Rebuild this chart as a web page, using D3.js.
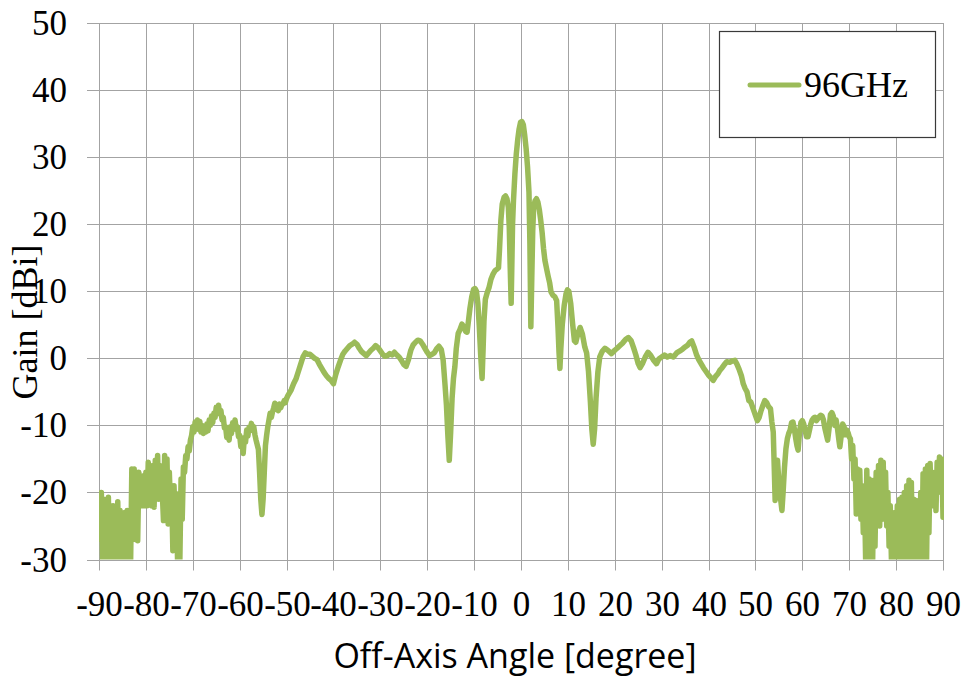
<!DOCTYPE html>
<html>
<head>
<meta charset="utf-8">
<script src="https://cdn.jsdelivr.net/npm/d3@7/dist/d3.min.js"></script>
<style>
  html, body { margin: 0; padding: 0; background: #ffffff; }
  svg { display: block; }
</style>
</head>
<body>
<svg id="chart" width="966" height="679"></svg>
<script>
// ---- data -------------------------------------------------------------
const seriesName = "96GHz";
const xTickValues = [-90, -80, -70, -60, -50, -40, -30, -20, -10, 0, 10, 20, 30, 40, 50, 60, 70, 80, 90];
const yTickValues = [-30, -20, -10, 0, 10, 20, 30, 40, 50];
const xTitle = "Off-Axis Angle [degree]";
const yTitle = "Gain [dBi]";

// measured radiation pattern: off-axis angle (deg)
const angleDeg = [
  // far left, dense ripple
  -90, -89.75, -89.5, -89.25, -89, -88.75, -88.5, -88.25,
  -88, -87.75, -87.5, -87.25, -87, -86.75, -86.5, -86.25,
  -86, -85.75, -85.5, -85.25, -85, -84.75, -84.5, -84.25,
  -84, -83.75, -83.5, -83.25, -83, -82.75, -82.5, -82.25,
  -82, -81.75, -81.5, -81.25, -81, -80.75, -80.5, -80.25,
  -80, -79.75, -79.5, -79.25, -79, -78.75, -78.5, -78.25,
  -78, -77.75, -77.5, -77.25, -77, -76.75, -76.5, -76.25,
  -76, -75.75, -75.5, -75.25, -75, -74.75, -74.5, -74.25,
  -74, -73.75, -73.5, -73.25, -73, -72.75, -72.5, -72.25,
  // -72 .. -49.75
  -72, -71.75, -71.5, -71.25, -71, -70.75, -70.5, -70.25,
  -70, -69.75, -69.5, -69.25, -69, -68.75, -68.5, -68.25,
  -68, -67.75, -67.5, -67.25, -67, -66.75, -66.5, -66.25,
  -66, -65.75, -65.5, -65.25, -65, -64.75, -64.5, -64.25,
  -64, -63.75, -63.5, -63.25, -63, -62.75, -62.5, -62.25,
  -62, -61.75, -61.5, -61.25, -61, -60.75, -60.5, -60.25,
  -60, -59.75, -59.5, -59.25, -59, -58.75, -58.5, -58.25,
  -58, -57.75, -57.5, -57.25, -57, -56.75, -56.5, -56.25,
  -56, -55.75, -55.5, -55.25, -55, -54.75, -54.5, -54.25,
  -54, -53.75, -53.5, -53.25, -53, -52.75, -52.5, -52.25,
  -52, -51.75, -51.5, -51.25, -51, -50.75, -50.5, -50.25,
  -50, -49.75,
  // -49.5 .. -17
  -49.5, -49, -48.5, -48, -47.5, -47, -46.5, -46,
  -45.5, -45, -44.5, -44, -43.5, -43, -42.5, -42,
  -41.5, -41, -40.5, -40, -39.5, -39, -38.5, -38,
  -37.5, -37, -36.5, -36, -35.5, -35, -34.5, -34,
  -33.5, -33, -32.5, -32, -31.5, -31, -30.5, -30,
  -29.5, -29, -28.5, -28, -27.5, -27, -26.5, -26,
  -25.5, -25, -24.5, -24, -23.5, -23, -22.5, -22,
  -21.5, -21, -20.5, -20, -19.5, -19, -18.5, -18,
  -17.5, -17,
  // main beam and near side lobes
  -16.6, -16.2, -15.9, -15.6, -15.3, -15.0, -14.7, -14.4,
  -14.1, -13.8, -13.4, -13.0, -12.6, -12.2, -11.8, -11.5,
  -11.2, -10.9, -10.5, -10.1, -9.8, -9.5, -9.2, -8.9,
  -8.6, -8.3, -8.1, -7.9, -7.6, -7.2, -6.8, -6.4,
  -6.0, -5.5, -5.1, -4.8, -4.6, -4.3, -4.0, -3.6,
  -3.3, -3.0, -2.7, -2.5, -2.3, -2.1, -1.95, -1.8,
  -1.6, -1.3, -1.0, -0.7, -0.4, -0.1, 0.2, 0.5,
  0.8, 1.1, 1.4, 1.7, 1.9, 2.1, 2.3, 2.5,
  2.7, 3.0, 3.3, 3.6, 3.9, 4.2, 4.5, 4.8,
  5.1, 5.5, 5.8, 6.1, 6.4, 6.8, 7.2, 7.6,
  7.9, 8.1, 8.3, 8.5, 8.8, 9.2, 9.6, 9.9,
  10.2, 10.6, 11.0, 11.4, 11.7, 12.1, 12.6, 13.1,
  13.6, 14.0, 14.4, 14.8, 15.1, 15.4, 15.7, 16.0,
  16.4, 16.8,
  // 17.3 .. 53.8
  17.3, 17.9, 18.5, 19.3, 20.0, 20.5, 21.1, 21.7,
  22.3, 22.9, 23.5, 24.0, 24.5, 25.0, 25.4, 25.9,
  26.5, 27.1, 27.6, 28.2, 28.9, 29.4, 30.0, 30.6,
  31.2, 31.8, 32.5, 33.2, 33.9, 34.5, 35.0, 35.6,
  36.0, 36.4, 36.9, 37.4, 37.9, 38.4, 38.9, 39.5,
  40.0, 40.5, 41.0, 41.5, 42.0, 42.4, 42.9, 43.4,
  43.9, 44.5, 45.0, 45.6, 46.0, 46.5, 47.0, 47.4,
  47.8, 48.2, 48.6, 49.0, 49.5, 50.0, 50.4, 50.8,
  51.2, 51.6, 52.0, 52.4, 52.8, 53.2, 53.5, 53.8,
  // 54 .. 70
  54.0, 54.2, 54.45, 54.7, 54.95, 55.2, 55.45, 55.65,
  55.9, 56.2, 56.5, 56.8, 57.1, 57.4, 57.7, 58.0,
  58.3, 58.6, 58.85, 59.1, 59.4, 59.7, 60.0, 60.3,
  60.6, 60.9, 61.2, 61.5, 61.8, 62.1, 62.4, 62.7,
  63.0, 63.3, 63.6, 63.9, 64.2, 64.5, 64.8, 65.1,
  65.4, 65.7, 66.0, 66.3, 66.6, 66.9, 67.2, 67.5,
  67.8, 68.0, 68.3, 68.6, 68.9, 69.2, 69.5, 69.8,
  70.0,
  // far right, dense ripple
  70.25, 70.5, 70.75, 71, 71.25, 71.5, 71.75, 72,
  72.25, 72.5, 72.75, 73, 73.25, 73.5, 73.75, 74,
  74.25, 74.5, 74.75, 75, 75.25, 75.5, 75.75, 76,
  76.25, 76.5, 76.75, 77, 77.25, 77.5, 77.75, 78,
  78.25, 78.5, 78.75, 79, 79.25, 79.5, 79.75, 80,
  80.25, 80.5, 80.75, 81, 81.25, 81.5, 81.75, 82,
  82.25, 82.5, 82.75, 83, 83.25, 83.5, 83.75, 84,
  84.25, 84.5, 84.75, 85, 85.25, 85.5, 85.75, 86,
  86.25, 86.5, 86.75, 87, 87.25, 87.5, 87.75, 88,
  88.25, 88.5, 88.75, 89, 89.25, 89.5, 89.75, 90
];

// measured gain (dBi) at each angle above, 96 GHz
const gainDbi = [
  // far left, dense ripple
  -20.2, -27, -20, -30, -21, -30, -21.5, -30,
  -20.7, -30, -22, -30, -22, -30, -23, -30,
  -21.4, -30, -22.7, -30, -24, -30, -23, -30,
  -22.7, -30, -24, -30, -16.5, -23, -16.5, -27,
  -17, -27.2, -17, -20, -18, -22, -17.5, -22,
  -17, -22, -15.5, -19, -18, -22, -16, -22.2,
  -15.2, -20, -14.5, -21, -16, -19, -20, -24.2,
  -14.5, -20, -15, -24.7, -17, -22, -20, -28.7,
  -19, -25, -22, -30, -20.2, -30, -18, -24,
  // -72 .. -49.75
  -16.2, -17, -14.5, -15, -13.2, -13.8, -12.2, -11.5,
  -10.2, -11, -9.5, -10.5, -9.2, -10.6, -9.4, -11,
  -10, -11.2, -10.2, -11, -9.8, -10.8, -9.2, -10,
  -8.6, -9.6, -8.2, -8.8, -7.3, -8.2, -7.0, -8.3,
  -7.8, -9.2, -8.8, -10.4, -10.2, -11.8, -11, -12.2,
  -10.2, -11.2, -9.6, -10.6, -9.2, -10.4, -10.2, -11.7,
  -11.5, -13.2, -12.5, -14.2, -11.8, -12.5, -10.7, -11.6,
  -10.3, -10.8, -9.7, -10.4, -10.2, -11.4, -12.2, -12.9,
  -13.6, -17, -21, -23.3, -21, -17, -13, -11.5,
  -10.2, -9.2, -8.2, -8.8, -8.0, -7.4, -6.7, -7.6,
  -7.2, -7.8, -6.8, -7.4, -6.9, -6.8, -6.3, -6.6,
  -6.0, -5.6,
  // -49.5 .. -17
  -5.3, -4.7, -3.8, -3.1, -2.0, -0.9, 0.2, 0.8,
  0.6, 0.6, 0.3, 0.0, -0.2, -0.9, -1.5, -2.1,
  -2.6, -3.0, -3.3, -3.8, -2.4, -1.3, -0.3, 0.6,
  1.1, 1.5, 1.9, 2.1, 2.4, 2.1, 1.5, 1.0,
  0.7, 0.4, 0.8, 1.2, 1.5, 1.9, 1.6, 1.1,
  0.6, 0.3, 0.4, 0.7, 0.5, 0.9, 0.5, 0.2,
  -0.3, -0.9, -1.2, -0.2, 1.2, 2.0, 2.4, 2.7,
  2.6, 2.1, 1.5, 0.9, 0.4, 0.6, 0.8, 1.4,
  1.8, 1.3,
  // main beam and near side lobes
  -0.3, -4, -7, -11.5, -15.2, -11, -6, -3,
  -1.2, 1.5, 3.7, 4.3, 5.1, 4.7, 4.0, 3.9,
  5.6, 7.4, 9.2, 10.3, 10.4, 10.0, 8.2, 4.8,
  0.5, -3.0, 1.0, 5.5, 8.8, 9.8, 10.6, 11.8,
  12.5, 13.1, 13.3, 13.5, 16.0, 20.5, 23.0, 24.0,
  24.2, 23.8, 22.5, 19.5, 13.5, 8.2, 14, 20,
  23.6, 27.5, 30.5, 32.6, 34.2, 35.2, 35.3, 34.8,
  33.2, 31.2, 28.5, 24.8, 17, 4.7, 12, 19,
  22.5, 23.5, 23.8, 23.3, 22.2, 20.6, 18.8, 16.4,
  14.6, 13.2, 12.2, 11.3, 9.9, 9.4, 9.2, 8.6,
  4.5, 1.0, -1.5, 1.5, 5.0, 7.8, 9.6, 10.2,
  10.0, 8.2, 5.2, 2.6, 2.4, 3.6, 4.6, 3.6,
  1.7, 0.8, -2.0, -6.5, -10.5, -12.8, -10.5, -6,
  -2, 0.2,
  // 17.3 .. 53.8
  1.0, 1.5, 1.2, 0.7, 1.2, 1.5, 1.9, 2.3,
  2.8, 3.1, 2.6, 1.6, 0.5, -0.8, -1.4, -0.8,
  0.2, 0.9, 0.5, -0.2, -0.8, -0.1, 0.2, 0.5,
  0.2, 0.4, 0.2, 0.8, 1.1, 1.4, 1.7, 2.0,
  2.4, 2.6, 1.7, 0.6, -0.2, -0.8, -1.4, -2.0,
  -2.5, -2.9, -3.3, -2.7, -2.3, -1.8, -1.4, -0.9,
  -0.5, -0.6, -0.4, -0.3, -0.8, -1.6, -2.6, -3.8,
  -4.5, -5.0, -6.3, -6.5, -7.5, -8.5, -9.3, -8.8,
  -7.8, -7.0, -6.3, -6.6, -7.2, -7.5, -9.5, -11,
  // 54 .. 70
  -16, -21.2, -17, -15.2, -18, -20, -21.5, -22.7,
  -20, -16.2, -13.5, -12, -11.2, -10.7, -9.6, -9.5,
  -10.5, -12, -13, -13.7, -11, -9.6, -9.3, -9.8,
  -10.8, -11.7, -11.7, -10.8, -9.8, -9.2, -8.9, -8.8,
  -9.3, -9.0, -8.7, -8.5, -8.6, -9.2, -10.4, -11.3,
  -12.2, -10.5, -8.4, -8.1, -8.6, -10.0, -9.2, -10.5,
  -12.2, -13.2, -11.5, -9.8, -10.2, -11.4, -10.7, -11.2,
  -11.7,
  // far right, dense ripple
  -12, -15, -13, -18, -15, -23.2, -16.5, -22,
  -16.7, -24, -19, -26, -20, -30, -16.7, -30,
  -18, -30, -19, -30, -18.2, -28, -17, -24.2,
  -16, -25, -15.2, -24, -15.5, -23.7, -17, -25,
  -20, -28, -22, -30, -23.2, -30, -23, -30,
  -22, -30, -21, -30, -20.7, -30, -20, -30,
  -19, -30, -18.2, -30, -18.5, -30, -21, -30,
  -21.2, -30, -22, -30, -20, -30, -17.2, -30,
  -16.5, -30, -16, -26, -15.7, -22, -17, -22,
  -18, -22.7, -15.5, -20, -14.7, -18, -15, -23.7
];

// ---- layout -----------------------------------------------------------
const plot = { left: 99, right: 943, top: 23, bottom: 559.5 };
const tickOut = 12;
const serif = '"Liberation Serif", "DejaVu Serif", serif';
const lineColor = "#9BBB59";
const gridColor = "#a3a3a3";
const tickLabel = d => String(d);   // plain hyphen-minus, as in the axis labels

const x = d3.scaleLinear().domain([-90, 90]).range([plot.left, plot.right]);
const y = d3.scaleLinear().domain([-30, 50]).range([plot.bottom, plot.top]);

const svg = d3.select("#chart");

// vertical grid + x tick labels
const xAxis = d3.axisBottom(x)
  .tickValues(xTickValues)
  .tickFormat(tickLabel)
  .tickSizeInner(plot.bottom - plot.top + 11)
  .tickSizeOuter(0);

const gx = svg.append("g")
  .attr("transform", `translate(0.5,${plot.top})`)
  .call(xAxis);
gx.select(".domain").remove();
gx.selectAll(".tick line").attr("stroke", gridColor).attr("stroke-width", 1);
gx.selectAll(".tick").attr("transform", d => `translate(${Math.round(x(d))},0)`);
gx.selectAll(".tick text")
  .attr("y", 616 - plot.top)
  .attr("dy", 0)
  .attr("fill", "#000")
  .style("font-family", serif)
  .style("font-size", "35px");

// horizontal grid + y tick labels
const yAxis = d3.axisLeft(y)
  .tickValues(yTickValues)
  .tickFormat(tickLabel)
  .tickSizeInner(plot.right - plot.left + tickOut)
  .tickSizeOuter(0)
  .tickPadding(20);

const gy = svg.append("g")
  .attr("transform", `translate(${plot.right},0.5)`)
  .call(yAxis);
gy.select(".domain").remove();
gy.selectAll(".tick").attr("transform", d => `translate(0,${Math.round(y(d))})`);
gy.selectAll(".tick line").attr("stroke", gridColor).attr("stroke-width", 1);
gy.selectAll(".tick text")
  .attr("dy", "0.34em")
  .attr("fill", "#000")
  .style("font-family", serif)
  .style("font-size", "35px");

// pattern curve
svg.append("defs").append("clipPath").attr("id", "plot-clip")
  .append("rect")
  .attr("x", plot.left).attr("y", plot.top)
  .attr("width", plot.right - plot.left + 1)
  .attr("height", plot.bottom - plot.top);

const points = angleDeg.map((a, i) => [a, gainDbi[i]]);
const line = d3.line()
  .x(d => x(d[0]))
  .y(d => y(d[1]));

svg.append("path")
  .datum(points)
  .attr("clip-path", "url(#plot-clip)")
  .attr("d", line)
  .attr("fill", "none")
  .attr("stroke", lineColor)
  .attr("stroke-width", 5.5)
  .attr("stroke-linejoin", "round")
  .attr("stroke-linecap", "round");

// legend
const legend = svg.append("g");
legend.append("rect")
  .attr("x", 719.5).attr("y", 31.5)
  .attr("width", 216).attr("height", 106)
  .attr("fill", "#fff")
  .attr("stroke", "#3a3a3a")
  .attr("stroke-width", 1.2);
legend.append("line")
  .attr("x1", 750).attr("x2", 799)
  .attr("y1", 85).attr("y2", 85)
  .attr("stroke", lineColor)
  .attr("stroke-width", 5)
  .attr("stroke-linecap", "round");
legend.append("text")
  .attr("x", 804).attr("y", 97)
  .style("font-family", serif)
  .style("font-size", "36px")
  .attr("fill", "#000")
  .text(seriesName);

// axis titles
svg.append("text")
  .attr("x", 515).attr("y", 668)
  .attr("text-anchor", "middle")
  .style("font-family", '"Open Sans", Lato, sans-serif')
  .style("font-size", "34px")
  .attr("fill", "#000")
  .text(xTitle);

svg.append("text")
  .attr("transform", "translate(37,322) rotate(-90)")
  .attr("text-anchor", "middle")
  .style("font-family", serif)
  .style("font-size", "36px")
  .attr("fill", "#000")
  .text(yTitle);
</script>
</body>
</html>
